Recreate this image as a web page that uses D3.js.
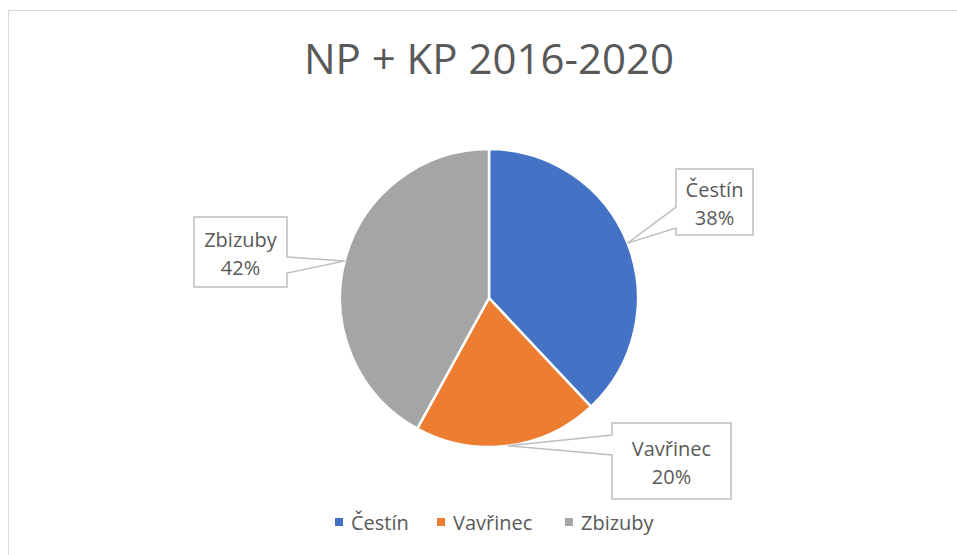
<!DOCTYPE html>
<html>
<head>
<meta charset="utf-8">
<title>NP + KP 2016-2020</title>
<script src="https://cdn.jsdelivr.net/npm/d3@7"></script>
<style>
body { margin: 0; background: #fff; }
text { font-family: "Open Sans", "Noto Sans", sans-serif; fill: #595959; }
</style>
</head>
<body>
<script>
var title = "NP + KP 2016-2020";
var categories = ["Čestín", "Vavřinec", "Zbizuby"];
var values = [38, 20, 42];
var colors = ["#4472c4", "#ed7d31", "#a5a5a5"];

var W = 957, H = 555;
var cx = 489, cy = 298, R = 149;

var svg = d3.select("body").append("svg")
  .attr("width", W).attr("height", H);

// chart area frame (runs off the right and bottom edge)
svg.append("rect")
  .attr("x", 8.5).attr("y", 10.5)
  .attr("width", W + 20).attr("height", H + 20)
  .attr("fill", "none").attr("stroke", "#d9d9d9").attr("stroke-width", 1);

svg.append("text")
  .attr("x", cx).attr("y", 74)
  .attr("text-anchor", "middle")
  .style("font-size", "42px")
  .text(title);

var pie = d3.pie().sort(null).value(function(d) { return d; });
var arcs = pie(values);
var arc = d3.arc().innerRadius(0).outerRadius(R);

var g = svg.append("g").attr("transform", "translate(" + cx + "," + cy + ")");
g.selectAll("path").data(arcs).enter().append("path")
  .attr("d", arc)
  .attr("fill", function(d, i) { return colors[i]; })
  .attr("stroke", "#fff").attr("stroke-width", 2.5)
  .attr("stroke-linejoin", "round");

// callout boxes, pointer goes to the middle of each slice on the rim
var boxes = [
  {x: 676, y: 169, w: 77, h: 66, side: "left", b0: 207, b1: 228},
  {x: 612, y: 423, w: 119, h: 76, side: "left", b0: 435, b1: 455},
  {x: 194, y: 217, w: 93, h: 70, side: "right", b0: 257, b1: 273}
];

var total = d3.sum(values);
var labels = svg.append("g");
arcs.forEach(function(a, i) {
  var b = boxes[i];
  var ang = (a.startAngle + a.endAngle) / 2;
  var tx = cx + R * Math.sin(ang), ty = cy - R * Math.cos(ang);
  var pts;
  if (b.side === "left") {
    pts = [[b.x, b.y], [b.x + b.w, b.y], [b.x + b.w, b.y + b.h], [b.x, b.y + b.h],
           [b.x, b.b1], [tx, ty], [b.x, b.b0]];
  } else {
    pts = [[b.x, b.y], [b.x + b.w, b.y], [b.x + b.w, b.b0], [tx, ty], [b.x + b.w, b.b1],
           [b.x + b.w, b.y + b.h], [b.x, b.y + b.h]];
  }
  labels.append("path")
    .attr("d", "M" + pts.join("L") + "Z")
    .attr("fill", "#fff").attr("stroke", "#bfbfbf").attr("stroke-width", 1.5);
  var mx = b.x + b.w / 2;
  var top = b.y + (b.h - 66) / 2;
  labels.append("text").attr("x", mx).attr("y", top + 28)
    .attr("text-anchor", "middle").style("font-size", "20px")
    .text(categories[i]);
  labels.append("text").attr("x", mx).attr("y", top + 56)
    .attr("text-anchor", "middle").style("font-size", "20px")
    .text(Math.round(values[i] / total * 100) + "%");
});

// legend
var legendX = [335, 437, 565];
var legend = svg.append("g");
categories.forEach(function(c, i) {
  legend.append("rect").attr("x", legendX[i]).attr("y", 518)
    .attr("width", 8).attr("height", 8).attr("fill", colors[i]);
  legend.append("text").attr("x", legendX[i] + 16).attr("y", 530)
    .style("font-size", "20px").text(c);
});
</script>
</body>
</html>
